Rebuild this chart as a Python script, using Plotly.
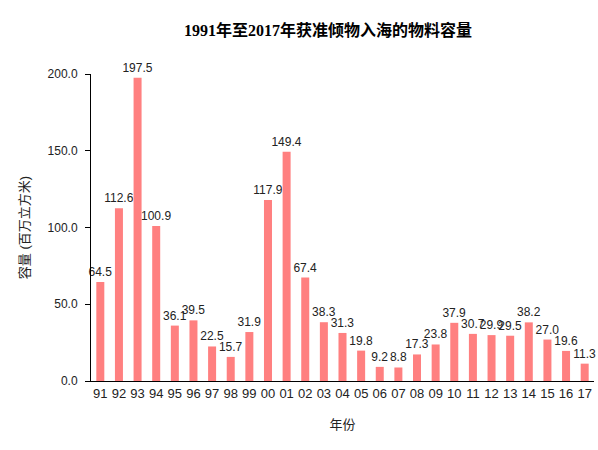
import plotly.graph_objects as go

years = ['91', '92', '93', '94', '95', '96', '97', '98', '99', '00', '01', '02', '03', '04',
         '05', '06', '07', '08', '09', '10', '11', '12', '13', '14', '15', '16', '17']
volume = [64.5, 112.6, 197.5, 100.9, 36.1, 39.5, 22.5, 15.7, 31.9, 117.9, 149.4, 67.4, 38.3, 31.3,
          19.8, 9.2, 8.8, 17.3, 23.8, 37.9, 30.7, 29.9, 29.5, 38.2, 27.0, 19.6, 11.3]

fig = go.Figure()
fig.add_trace(go.Bar(
    x=years, y=volume,
    marker=dict(color='#FF8080', line=dict(width=0)),
    width=0.43,
    text=['%.1f' % v for v in volume],
    textposition='outside',
    constraintext='none',
    cliponaxis=False,
    textfont=dict(family='Liberation Sans, Arial', size=12, color='#222222'),
))

fig.update_layout(
    width=598, height=450,
    margin=dict(l=91, r=4, t=74, b=69, autoexpand=False),
    plot_bgcolor='white', paper_bgcolor='white',
    showlegend=False,
    title=dict(
        text='<b>1991年至2017年获准倾物入海的物料容量</b>',
        x=328 / 598, xanchor='center', y=1 - 30 / 450, yanchor='middle',
        font=dict(family='Liberation Serif, Noto Sans CJK SC', size=16, color='black'),
    ),
    font=dict(family='Liberation Sans, Noto Sans CJK SC', size=12, color='#222222'),
)

fig.update_xaxes(
    type='category',
    showline=True, linecolor='black', linewidth=1,
    ticks='', showgrid=False,
    tickfont=dict(size=13),
    title=dict(text='年份', font=dict(size=13), standoff=20),
)
fig.update_yaxes(
    range=[0, 200], tickvals=[0, 50, 100, 150, 200], tickformat='.1f',
    showline=True, linecolor='black', linewidth=1,
    ticks='outside', ticklen=5, tickcolor='black',
    ticklabelstandoff=5,
    showgrid=False, zeroline=False,
    tickfont=dict(size=12),
    title=dict(text='容量 (百万立方米)', font=dict(size=13), standoff=15),
)

# drop the default 8px body margin so the figure sits at the window corner
fig.write_html("out.html", config={'displayModeBar': False},
               post_script="document.body.style.margin='0px';document.body.style.overflow='hidden';")
